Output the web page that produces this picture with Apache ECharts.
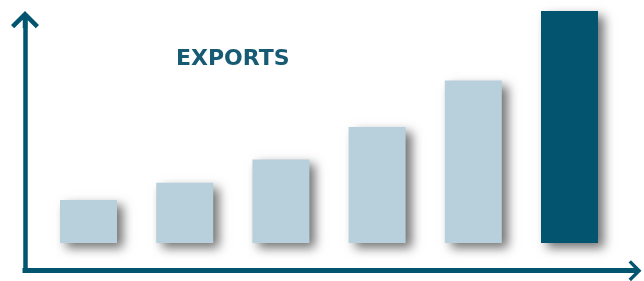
<!DOCTYPE html>
<html lang="en">
<head>
	<meta charset="UTF-8" />
	<title>Exports</title>
	<script src="https://cdn.jsdelivr.net/npm/echarts@6/dist/echarts.min.js"></script>
	<style>
		html, body { margin: 0; padding: 0; background: #fff; }
		#main { width: 644px; height: 281px; }
	</style>
</head>
<body>

<div id="main"></div>

<script>
	// data
	var categories = ['P1', 'P2', 'P3', 'P4', 'P5', 'P6'];
	var exportValues = [18.5, 26, 36, 50, 70, 100];
	var highlightIndex = exportValues.length - 1; // last bar is the dark one

	var dark = '#03546f';
	var light = '#b8cfdc';

	// chevron arrow (tip up) used at the end of both axis lines
	var chevron = 'path://M14,0 L28,14 L24.8,17.2 L16.25,8.65 L16.25,17.2 L11.75,17.2 L11.75,8.65 L3.2,17.2 L0,14 Z';

	var mychart = echarts.init(document.getElementById('main'));

	mychart.setOption({
		animation: false,
		title: {
			text: 'EXPORTS',
			left: 171,
			top: 43,
			textStyle: {
				color: '#175a74',
				fontFamily: 'DejaVu Sans',
				fontWeight: 'bold',
				fontSize: 22
			}
		},
		grid: [
			// bars
			{ left: 40.4, right: 26.4, top: 11, bottom: 38 },
			// the two arrow axes
			{ left: 25, right: 9, top: 19.6, bottom: 10.3 }
		],
		xAxis: [
			{
				type: 'category',
				gridIndex: 0,
				data: categories,
				show: false
			},
			{
				type: 'value',
				gridIndex: 1,
				min: 0,
				max: 1,
				axisLine: {
					show: true,
					onZero: false,
					symbol: ['none', chevron],
					symbolSize: [21, 12.9],
					lineStyle: { color: dark, width: 5, cap: 'square' }
				},
				axisTick: { show: false },
				axisLabel: { show: false },
				splitLine: { show: false }
			}
		],
		yAxis: [
			{
				type: 'value',
				gridIndex: 0,
				min: 0,
				max: 100,
				show: false
			},
			{
				type: 'value',
				gridIndex: 1,
				min: 0,
				max: 1,
				axisLine: {
					show: true,
					onZero: false,
					symbol: ['none', chevron],
					symbolSize: [28, 17.2],
					lineStyle: { color: dark, width: 4.5, cap: 'square' }
				},
				axisTick: { show: false },
				axisLabel: { show: false },
				splitLine: { show: false }
			}
		],
		series: [
			{
				name: 'Exports',
				type: 'bar',
				xAxisIndex: 0,
				yAxisIndex: 0,
				data: exportValues,
				barWidth: 57,
				clip: false,
				itemStyle: {
					color: function (p) {
						return p.dataIndex === highlightIndex ? dark : light;
					},
					shadowColor: 'rgba(0, 0, 0, 0.55)',
					shadowBlur: 10,
					shadowOffsetX: 6,
					shadowOffsetY: 5
				}
			}
		]
	});
</script>

</body>
</html>
